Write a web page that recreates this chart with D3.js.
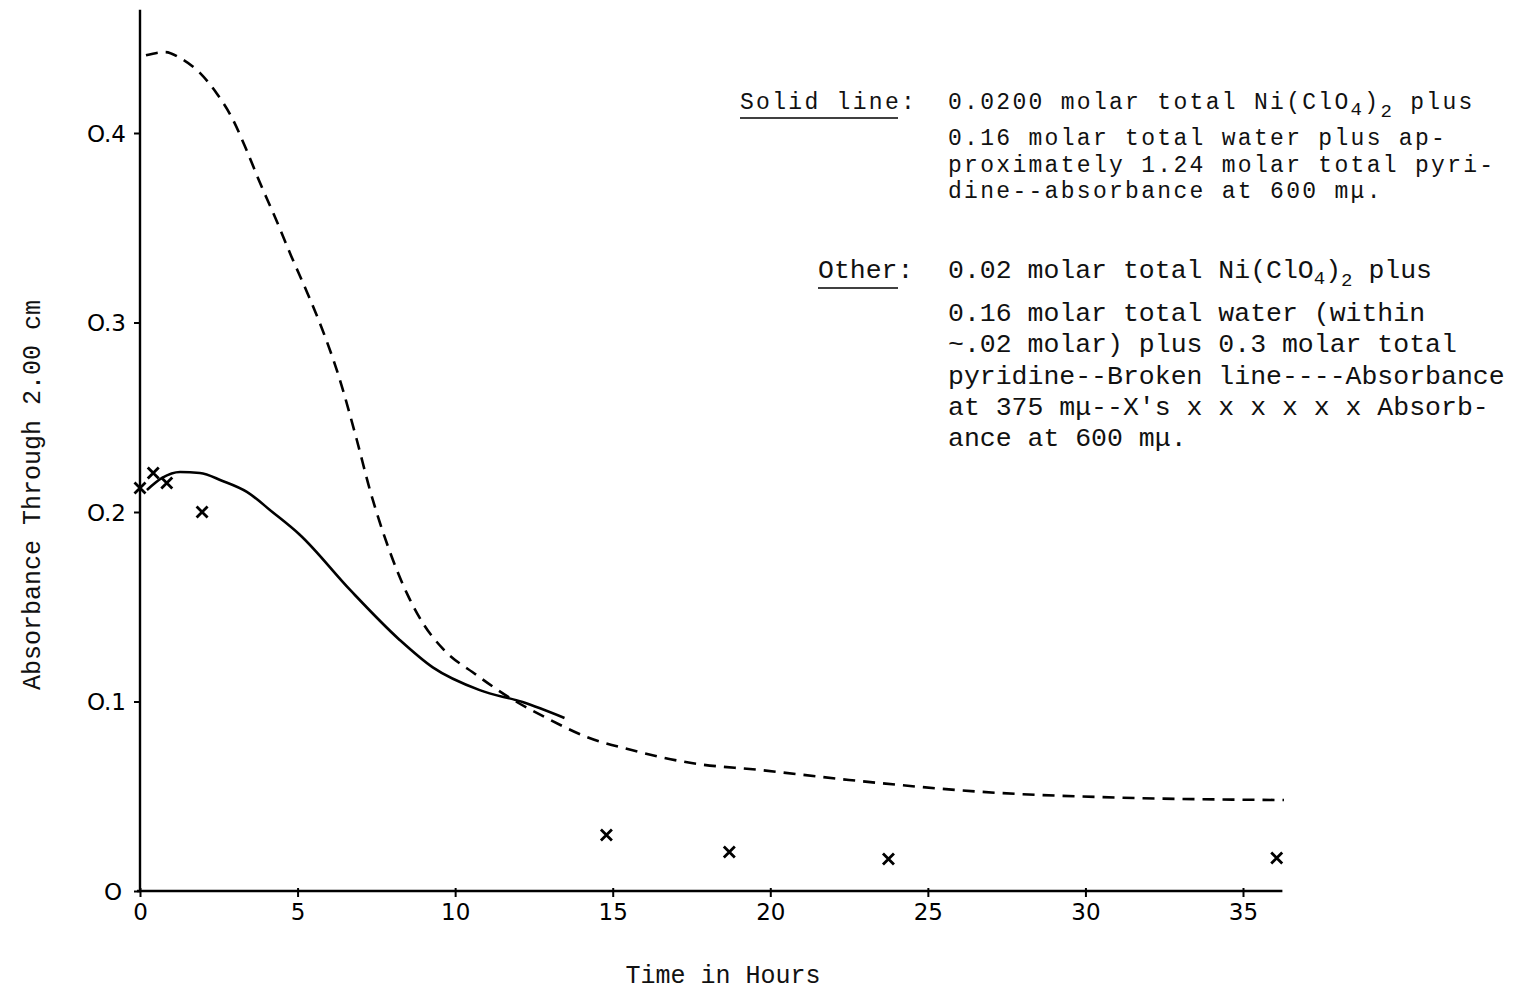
<!DOCTYPE html>
<html>
<head>
<meta charset="utf-8">
<script src="https://cdn.jsdelivr.net/npm/d3@7"></script>
<style>
  body { margin: 0; background: #fff; }
  svg { display: block; }
  .axis-line { stroke: #000; stroke-width: 2.4; fill: none; }
  .tick-label { font-family: "DejaVu Sans", sans-serif; font-size: 23px; fill: #000; }
  .type { font-family: "Liberation Mono", monospace; font-size: 26.5px; fill: #111; }
  .type-small { font-family: "Liberation Mono", monospace; font-size: 23px; letter-spacing: 2.3px; fill: #111; }
  .axis-title { font-family: "Liberation Mono", monospace; font-size: 25px; fill: #111; }
</style>
</head>
<body>
<div id="chart"></div>
<script>
// Data (hours, absorbance)
var dashedHours = [0.19, 0.8, 1.27, 1.9, 2.43, 2.95, 3.38, 3.8, 4.3, 4.8, 5.3, 5.77, 6.3, 6.88, 7.29, 7.93, 8.5, 9.03, 9.6, 10.68, 11.73, 12.9, 14.17, 15.6, 17.5, 19.65, 22.5, 27.3, 30.4, 36.3];
var dashedValues = [0.441, 0.4427, 0.4396, 0.4317, 0.421, 0.407, 0.391, 0.374, 0.355, 0.335, 0.316, 0.297, 0.272, 0.238, 0.212, 0.179, 0.156, 0.140, 0.128, 0.114, 0.102, 0.0913, 0.0813, 0.0744, 0.0675, 0.0639, 0.0586, 0.0517, 0.0496, 0.048];

var solidHours = [0.22, 0.7, 1.27, 1.9, 2.6, 3.39, 4.2, 5.07, 6.66, 8.24, 9.29, 10.78, 12.14, 13.47];
var solidValues = [0.2116, 0.218, 0.2211, 0.2206, 0.2165, 0.2106, 0.2, 0.188, 0.159, 0.1325, 0.118, 0.106, 0.0997, 0.0913];

var crossHours = [0, 0.42, 0.85, 1.97, 14.8, 18.7, 23.75, 36.07];
var crossValues = [0.2127, 0.2206, 0.2153, 0.2, 0.0296, 0.0206, 0.0169, 0.0174];

var xTicks = [0, 5, 10, 15, 20, 25, 30, 35];
var xTickLabels = ["0", "5", "10", "15", "20", "25", "30", "35"];
var yTicks = [0, 0.1, 0.2, 0.3, 0.4];
var yTickLabels = ["O", "O.1", "O.2", "O.3", "O.4"];

var solidNote = [
  "0.16 molar total water plus ap-",
  "proximately 1.24 molar total pyri-",
  "dine--absorbance at 600 m\u03bc."
];
var otherNote = [
  "0.16 molar total water (within",
  "~.02 molar) plus 0.3 molar total",
  "pyridine--Broken line----Absorbance",
  "at 375 m\u03bc--X's x x x x x x Absorb-",
  "ance at 600 m\u03bc."
];

var render = function() {
  var width = 1522;
  var height = 997;

  var svg = d3.select("#chart")
    .append("svg")
    .attr("width", width)
    .attr("height", height);

  // Scales (pixel calibration from the axes)
  var xScale = d3.scaleLinear().domain([0, 35]).range([140, 1243]);
  var yScale = d3.scaleLinear().domain([0, 0.2]).range([891, 512]);

  // Axes lines
  svg.append("line")
    .attr("class", "axis-line")
    .attr("x1", xScale(0)).attr("x2", xScale(0))
    .attr("y1", yScale(0)).attr("y2", yScale(0.465));

  svg.append("line")
    .attr("class", "axis-line")
    .attr("x1", xScale(0) - 3).attr("x2", xScale(36.25))
    .attr("y1", yScale(0)).attr("y2", yScale(0));

  // x ticks
  var xAxis = d3.axisBottom(xScale)
    .tickValues(xTicks)
    .tickSize(6)
    .tickFormat(function(d, i) { return xTickLabels[i]; });

  var gx = svg.append("g")
    .attr("transform", "translate(0," + yScale(0) + ")")
    .call(xAxis);
  gx.select(".domain").remove();
  gx.selectAll(".tick line").attr("stroke", "#000").attr("stroke-width", 2).attr("y1", -3);
  gx.selectAll(".tick text")
    .attr("class", "tick-label")
    .attr("dy", 0)
    .attr("y", 29)
    .style("font-size", "23px")
    .style("font-family", "DejaVu Sans, sans-serif");

  // y ticks
  var yAxis = d3.axisLeft(yScale)
    .tickValues(yTicks)
    .tickSize(6)
    .tickFormat(function(d, i) { return yTickLabels[i]; });

  var gy = svg.append("g")
    .attr("transform", "translate(" + xScale(0) + ",0)")
    .call(yAxis);
  gy.select(".domain").remove();
  gy.selectAll(".tick line").attr("stroke", "#000").attr("stroke-width", 2);
  gy.selectAll(".tick text")
    .attr("class", "tick-label")
    .attr("x", -14)
    .attr("dy", "0.35em")
    .style("font-size", "23px")
    .style("font-family", "DejaVu Sans, sans-serif");
  gy.selectAll(".tick text").filter(function(d) { return d === 0; }).attr("x", -18);

  // Curves
  var line = d3.line()
    .x(function(d) { return xScale(d[0]); })
    .y(function(d) { return yScale(d[1]); })
    .curve(d3.curveMonotoneX);

  var dashed = dashedHours.map(function(h, i) { return [h, dashedValues[i]]; });
  var solid = solidHours.map(function(h, i) { return [h, solidValues[i]]; });

  svg.append("path")
    .datum(dashed)
    .attr("d", line)
    .attr("fill", "none")
    .attr("stroke", "#000")
    .attr("stroke-width", 2.6)
    .attr("stroke-dasharray", "12,8");

  svg.append("path")
    .datum(solid)
    .attr("d", line)
    .attr("fill", "none")
    .attr("stroke", "#000")
    .attr("stroke-width", 2.6);

  // X's
  var s = 5.5;
  svg.append("g")
    .selectAll("path")
    .data(crossHours)
    .enter()
    .append("path")
    .attr("d", function(h, i) {
      var cx = xScale(h), cy = yScale(crossValues[i]);
      return "M" + (cx - s) + "," + (cy - s) + "L" + (cx + s) + "," + (cy + s) +
        "M" + (cx + s) + "," + (cy - s) + "L" + (cx - s) + "," + (cy + s);
    })
    .attr("stroke", "#000")
    .attr("stroke-width", 2.8)
    .attr("fill", "none");

  // Axis titles
  svg.append("text")
    .attr("class", "axis-title")
    .attr("x", 723)
    .attr("y", 983)
    .attr("text-anchor", "middle")
    .text("Time in Hours");

  svg.append("text")
    .attr("class", "axis-title")
    .attr("transform", "translate(40,495) rotate(-90)")
    .attr("text-anchor", "middle")
    .text("Absorbance Through 2.00 cm");

  // Notes: solid line block (tighter typewriter spacing)
  var colX = 948;
  var notes = svg.append("g");

  notes.append("text").attr("class", "type-small").attr("x", 740).attr("y", 109).text("Solid line:");
  notes.append("line")
    .attr("x1", 740).attr("x2", 898).attr("y1", 118).attr("y2", 118)
    .attr("stroke", "#000").attr("stroke-width", 1.5);

  var formulaLine = function(y, lead, cls) {
    var t = notes.append("text").attr("class", cls).attr("x", colX).attr("y", y);
    t.append("tspan").text(lead + "Ni(ClO");
    t.append("tspan").attr("dy", 6).style("font-size", "19px").text("4");
    t.append("tspan").attr("dy", -6).text(")");
    t.append("tspan").attr("dy", 8).style("font-size", "19px").text("2");
    t.append("tspan").attr("dy", -8).text(" plus");
  };

  formulaLine(109, "0.0200 molar total ", "type-small");
  notes.selectAll(null)
    .data(solidNote)
    .enter()
    .append("text")
    .attr("class", "type-small")
    .attr("x", colX)
    .attr("y", function(d, i) { return 145 + i * 26.5; })
    .text(function(d) { return d; });

  // Notes: other block
  notes.append("text").attr("class", "type").attr("x", 818).attr("y", 278).text("Other:");
  notes.append("line")
    .attr("x1", 818).attr("x2", 898).attr("y1", 288).attr("y2", 288)
    .attr("stroke", "#000").attr("stroke-width", 1.5);

  formulaLine(278, "0.02 molar total ", "type");
  notes.selectAll(null)
    .data(otherNote)
    .enter()
    .append("text")
    .attr("class", "type")
    .attr("x", colX)
    .attr("y", function(d, i) { return 321 + i * 31.3; })
    .text(function(d) { return d; });
};

render();
</script>
</body>
</html>
